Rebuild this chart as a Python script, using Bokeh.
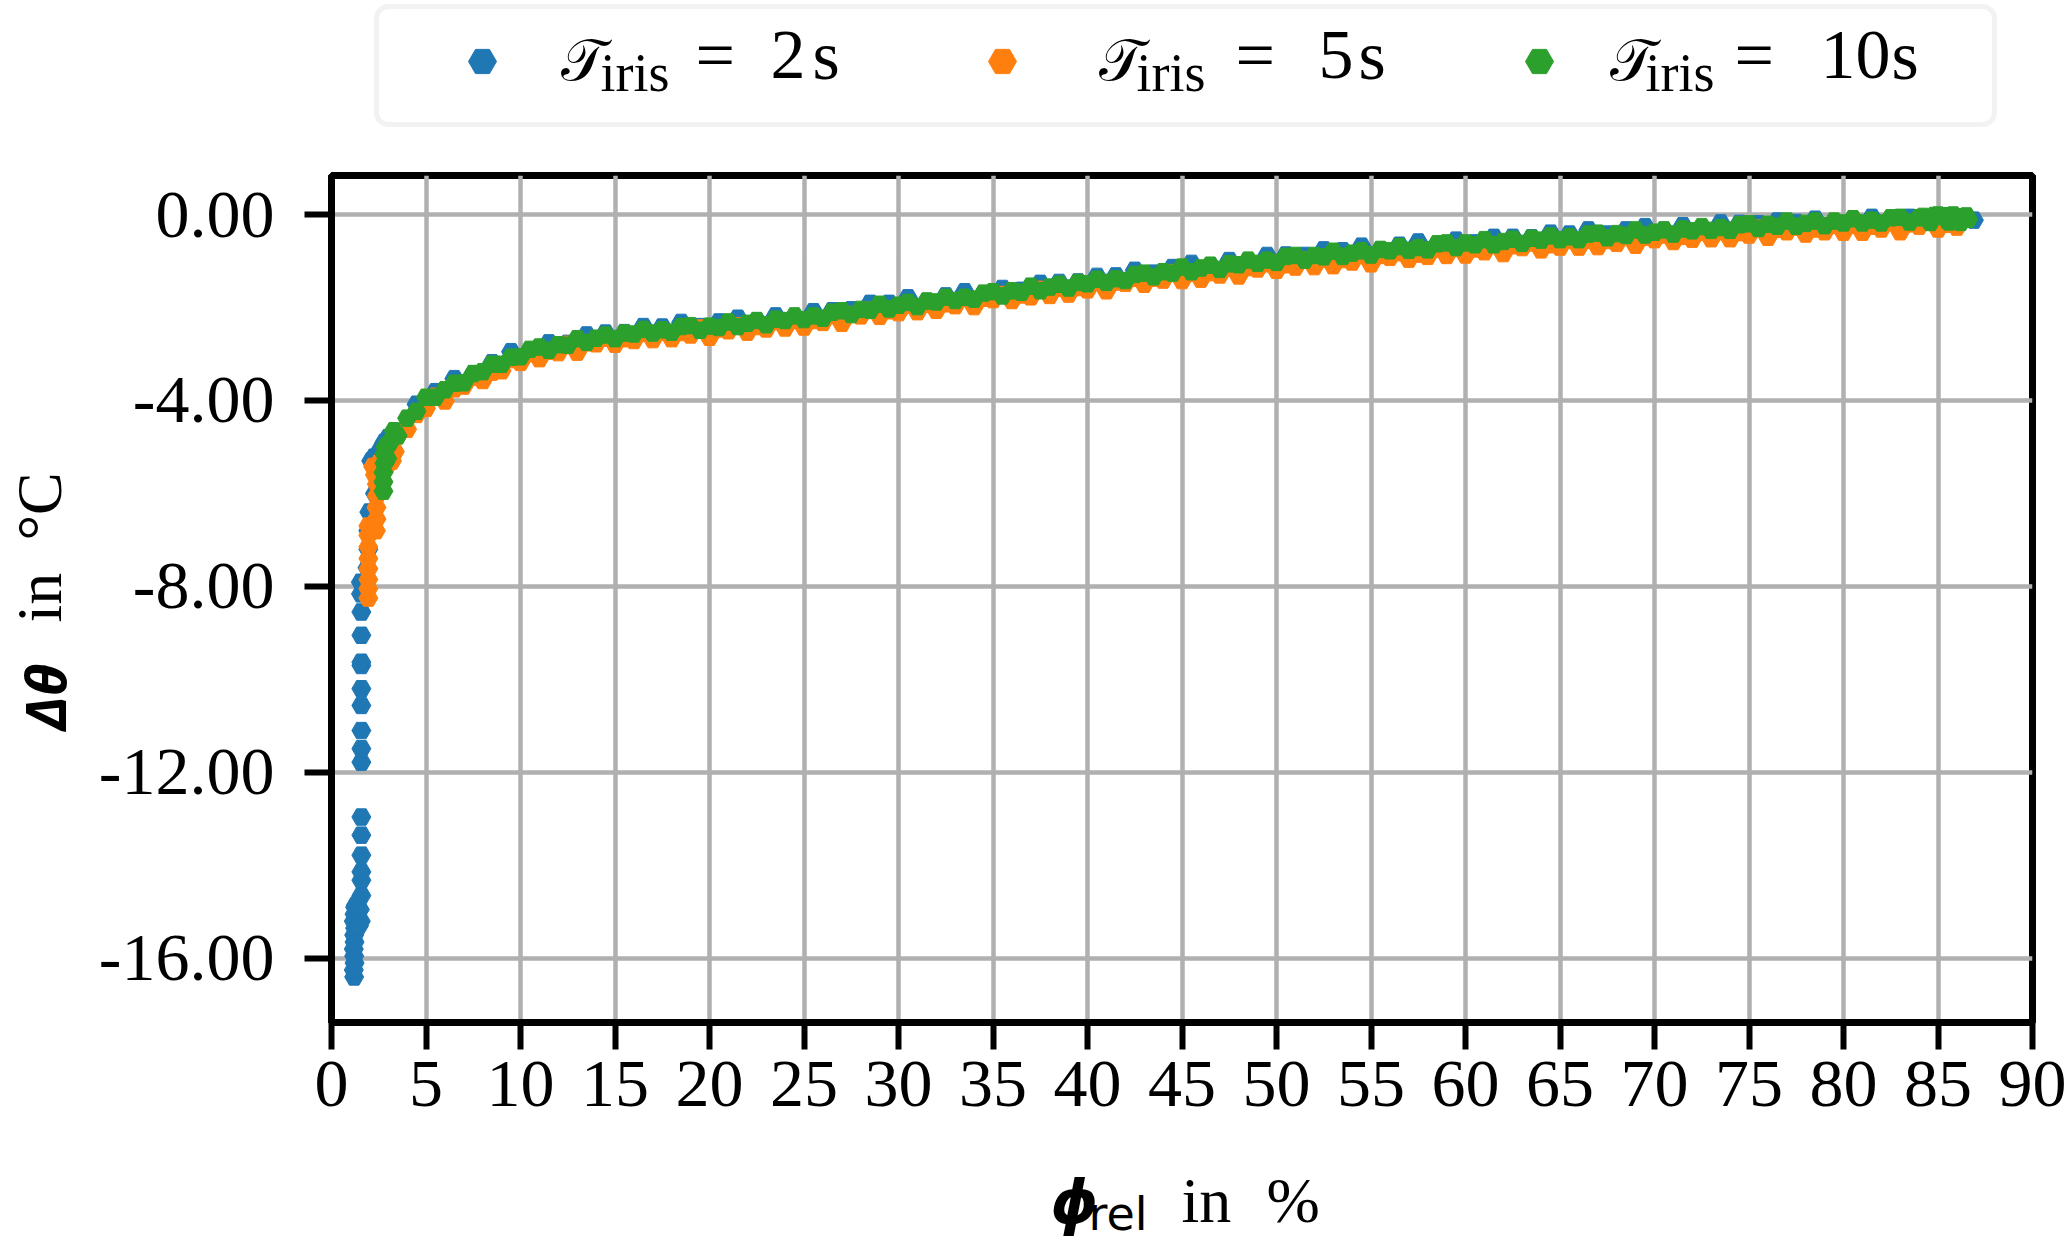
import math
from bokeh.plotting import figure
from bokeh.models import Range1d, FixedTicker, Label, BoxAnnotation, GridBox
from bokeh.embed import file_html
from bokeh.resources import INLINE

# ---------------- data ----------------
series_names = ["2", "5", "10"]
colors = ["#1f77b4", "#ff7f0e", "#2ca02c"]

# T_iris = 2 s
phi_2s = [1.20, 1.18, 1.22, 1.20, 1.18, 1.22, 1.20, 1.25, 1.18, 1.22,
          1.25, 1.30, 1.50, 1.55, 1.45,
          1.58, 1.58, 1.58, 1.58, 1.58, 1.58, 1.58, 1.58, 1.58, 1.58,
          1.58, 1.58, 1.58, 1.58, 1.58, 1.56, 1.55,
          1.90, 1.95, 1.95, 2.00, 2.30, 2.35, 2.10, 2.25, 2.45, 2.60, 2.80, 3.00,
          3.5, 4.5, 5.5, 6.5, 7.5, 8.5, 9.5, 10.5, 11.5, 12.5,
          13.5, 14.5, 15.5, 16.5, 17.5, 18.5, 19.5, 20.5, 21.5, 22.5,
          23.5, 24.5, 25.5, 26.5, 27.5, 28.5, 29.5, 30.5, 31.5, 32.5,
          33.5, 34.5, 35.5, 36.5, 37.5, 38.5, 39.5, 40.5, 41.5, 42.5,
          43.5, 44.5, 45.5, 46.5, 47.5, 48.5, 49.5, 50.5, 51.5, 52.5,
          53.5, 54.5, 55.5, 56.5, 57.5, 58.5, 59.5, 60.5, 61.5, 62.5,
          63.5, 64.5, 65.5, 66.5, 67.5, 68.5, 69.5, 70.5, 71.5, 72.5,
          73.5, 74.5, 75.5, 76.5, 77.5, 78.5, 79.5, 80.5, 81.5, 82.5,
          83.5, 84.5, 85.5, 86.5, 86.9]
dtheta_2s = [-16.40, -16.25, -16.10, -15.95, -15.80, -15.65, -15.50, -15.35, -15.20, -15.05,
             -14.90, -14.85, -14.95, -15.20, -15.30,
             -14.65, -14.32, -14.14, -13.78, -13.35, -12.96, -11.78, -11.49, -11.10, -10.56,
             -10.20, -9.70, -9.63, -9.05, -8.55, -8.16, -7.91,
             -7.60, -7.20, -6.80, -6.40, -6.00, -5.60, -5.30, -5.22, -5.20, -5.05, -4.90, -4.80,
             -4.66, -4.08, -3.81, -3.53, -3.43, -3.19, -2.95, -2.92, -2.76, -2.77,
             -2.59, -2.55, -2.54, -2.41, -2.42, -2.32, -2.41, -2.31, -2.23, -2.29,
             -2.18, -2.23, -2.09, -2.07, -2.05, -1.91, -1.91, -1.79, -1.87, -1.75,
             -1.66, -1.71, -1.59, -1.63, -1.48, -1.46, -1.45, -1.33, -1.32, -1.20,
             -1.26, -1.14, -1.05, -1.10, -0.99, -1.03, -0.88, -0.87, -0.88, -0.76,
             -0.78, -0.68, -0.76, -0.66, -0.59, -0.65, -0.55, -0.61, -0.49, -0.49,
             -0.50, -0.40, -0.42, -0.33, -0.42, -0.33, -0.26, -0.34, -0.24, -0.31,
             -0.18, -0.19, -0.20, -0.14, -0.17, -0.10, -0.19, -0.12, -0.06, -0.14,
             -0.06, -0.13, -0.03, -0.05, -0.12]

# T_iris = 5 s
phi_5s = [1.95, 1.95, 1.95, 1.95, 1.95, 1.95, 1.95, 1.95, 2.35, 2.38,
          2.38, 2.40, 2.40, 2.30, 2.20, 2.50, 2.75, 2.95, 3.20, 3.35,
          3.0, 3.5, 4.0, 4.5, 5.0, 5.5, 6.0, 6.5, 7.0, 7.5,
          8.0, 8.5, 9.0, 9.5, 10.0, 10.5, 11.0, 11.5, 12.0, 12.5,
          13.0, 13.5, 14.0, 14.5, 15.0, 15.5, 16.0, 16.5, 17.0, 17.5,
          18.0, 18.5, 19.0, 19.5, 20.0, 20.5, 21.0, 21.5, 22.0, 22.5,
          23.0, 23.5, 24.0, 24.5, 25.0, 25.5, 26.0, 26.5, 27.0, 27.5,
          28.0, 28.5, 29.0, 29.5, 30.0, 30.5, 31.0, 31.5, 32.0, 32.5,
          33.0, 33.5, 34.0, 34.5, 35.0, 35.5, 36.0, 36.5, 37.0, 37.5,
          38.0, 38.5, 39.0, 39.5, 40.0, 40.5, 41.0, 41.5, 42.0, 42.5,
          43.0, 43.5, 44.0, 44.5, 45.0, 45.5, 46.0, 46.5, 47.0, 47.5,
          48.0, 48.5, 49.0, 49.5, 50.0, 50.5, 51.0, 51.5, 52.0, 52.5,
          53.0, 53.5, 54.0, 54.5, 55.0, 55.5, 56.0, 56.5, 57.0, 57.5,
          58.0, 58.5, 59.0, 59.5, 60.0, 60.5, 61.0, 61.5, 62.0, 62.5,
          63.0, 63.5, 64.0, 64.5, 65.0, 65.5, 66.0, 66.5, 67.0, 67.5,
          68.0, 68.5, 69.0, 69.5, 70.0, 70.5, 71.0, 71.5, 72.0, 72.5,
          73.0, 73.5, 74.0, 74.5, 75.0, 75.5, 76.0, 76.5, 77.0, 77.5,
          78.0, 78.5, 79.0, 79.5, 80.0, 80.5, 81.0, 81.5, 82.0, 82.5,
          83.0, 83.5, 84.0, 84.5, 85.0, 85.5, 86.0]
dtheta_5s = [-8.25, -8.05, -7.85, -7.62, -7.40, -7.15, -6.90, -6.70, -6.80, -6.55,
             -6.30, -6.05, -5.80, -5.60, -5.42, -5.35, -5.30, -5.40, -5.30, -5.10,
             -5.20, -4.76, -4.62, -4.30, -4.17, -3.91, -4.01, -3.75, -3.69, -3.50,
             -3.57, -3.39, -3.36, -3.12, -3.18, -2.99, -3.10, -2.94, -2.97, -2.79,
             -2.96, -2.76, -2.78, -2.66, -2.79, -2.67, -2.71, -2.55, -2.69, -2.53,
             -2.67, -2.54, -2.59, -2.44, -2.64, -2.46, -2.50, -2.39, -2.53, -2.41,
             -2.46, -2.30, -2.44, -2.28, -2.42, -2.28, -2.32, -2.16, -2.34, -2.15,
             -2.18, -2.06, -2.19, -2.07, -2.11, -1.95, -2.09, -1.93, -2.06, -1.92,
             -1.96, -1.80, -1.98, -1.80, -1.83, -1.72, -1.85, -1.73, -1.77, -1.61,
             -1.74, -1.58, -1.71, -1.57, -1.62, -1.46, -1.64, -1.45, -1.48, -1.37,
             -1.50, -1.37, -1.41, -1.25, -1.42, -1.26, -1.39, -1.25, -1.30, -1.14,
             -1.32, -1.14, -1.17, -1.06, -1.20, -1.08, -1.13, -0.98, -1.12, -0.96,
             -1.10, -0.97, -1.02, -0.87, -1.06, -0.88, -0.92, -0.82, -0.96, -0.85,
             -0.90, -0.74, -0.88, -0.73, -0.87, -0.74, -0.80, -0.65, -0.84, -0.67,
             -0.71, -0.61, -0.76, -0.65, -0.70, -0.55, -0.70, -0.55, -0.69, -0.56,
             -0.62, -0.47, -0.66, -0.49, -0.54, -0.44, -0.58, -0.47, -0.53, -0.38,
             -0.52, -0.37, -0.52, -0.39, -0.44, -0.29, -0.49, -0.32, -0.37, -0.27,
             -0.42, -0.31, -0.37, -0.23, -0.38, -0.23, -0.38, -0.25, -0.31, -0.17,
             -0.37, -0.20, -0.25, -0.16, -0.31, -0.21, -0.27]

# T_iris = 10 s
phi_10s = [2.75, 2.75, 2.75, 2.80, 2.80, 2.85, 2.95, 3.10, 3.30,
           3.0, 3.5, 4.0, 4.5, 5.0, 5.5, 6.0, 6.5, 7.0, 7.5,
           8.0, 8.5, 9.0, 9.5, 10.0, 10.5, 11.0, 11.5, 12.0, 12.5,
           13.0, 13.5, 14.0, 14.5, 15.0, 15.5, 16.0, 16.5, 17.0, 17.5,
           18.0, 18.5, 19.0, 19.5, 20.0, 20.5, 21.0, 21.5, 22.0, 22.5,
           23.0, 23.5, 24.0, 24.5, 25.0, 25.5, 26.0, 26.5, 27.0, 27.5,
           28.0, 28.5, 29.0, 29.5, 30.0, 30.5, 31.0, 31.5, 32.0, 32.5,
           33.0, 33.5, 34.0, 34.5, 35.0, 35.5, 36.0, 36.5, 37.0, 37.5,
           38.0, 38.5, 39.0, 39.5, 40.0, 40.5, 41.0, 41.5, 42.0, 42.5,
           43.0, 43.5, 44.0, 44.5, 45.0, 45.5, 46.0, 46.5, 47.0, 47.5,
           48.0, 48.5, 49.0, 49.5, 50.0, 50.5, 51.0, 51.5, 52.0, 52.5,
           53.0, 53.5, 54.0, 54.5, 55.0, 55.5, 56.0, 56.5, 57.0, 57.5,
           58.0, 58.5, 59.0, 59.5, 60.0, 60.5, 61.0, 61.5, 62.0, 62.5,
           63.0, 63.5, 64.0, 64.5, 65.0, 65.5, 66.0, 66.5, 67.0, 67.5,
           68.0, 68.5, 69.0, 69.5, 70.0, 70.5, 71.0, 71.5, 72.0, 72.5,
           73.0, 73.5, 74.0, 74.5, 75.0, 75.5, 76.0, 76.5, 77.0, 77.5,
           78.0, 78.5, 79.0, 79.5, 80.0, 80.5, 81.0, 81.5, 82.0, 82.5,
           83.0, 83.5, 84.0, 84.5, 85.0, 85.5, 86.0, 86.5,
           84.2, 84.8, 85.3, 85.8, 86.3, 86.6, 85.6, 84.6, 86.2]
dtheta_10s = [-5.95, -5.75, -5.55, -5.35, -5.15, -5.00, -5.25, -4.90, -4.65,
              -4.95, -4.76, -4.38, -4.23, -3.93, -3.93, -3.77, -3.63, -3.62, -3.42,
              -3.38, -3.22, -3.22, -3.07, -3.06, -2.90, -2.85, -2.92, -2.80, -2.81,
              -2.67, -2.75, -2.66, -2.59, -2.67, -2.55, -2.57, -2.47, -2.55, -2.48,
              -2.53, -2.41, -2.39, -2.49, -2.40, -2.43, -2.31, -2.41, -2.34, -2.28,
              -2.37, -2.25, -2.28, -2.18, -2.26, -2.18, -2.23, -2.10, -2.07, -2.15,
              -2.04, -2.06, -1.93, -2.03, -1.95, -1.89, -1.98, -1.86, -1.88, -1.78,
              -1.85, -1.78, -1.82, -1.69, -1.66, -1.75, -1.64, -1.67, -1.54, -1.64,
              -1.56, -1.50, -1.58, -1.46, -1.49, -1.39, -1.46, -1.38, -1.42, -1.29,
              -1.26, -1.34, -1.23, -1.26, -1.13, -1.23, -1.15, -1.09, -1.18, -1.06,
              -1.08, -0.98, -1.05, -0.98, -1.03, -0.90, -0.88, -0.98, -0.88, -0.91,
              -0.79, -0.90, -0.83, -0.78, -0.87, -0.75, -0.78, -0.69, -0.77, -0.71,
              -0.76, -0.63, -0.61, -0.71, -0.61, -0.65, -0.54, -0.65, -0.58, -0.53,
              -0.62, -0.51, -0.55, -0.46, -0.54, -0.48, -0.54, -0.42, -0.40, -0.50,
              -0.41, -0.45, -0.33, -0.44, -0.38, -0.33, -0.42, -0.31, -0.35, -0.26,
              -0.34, -0.28, -0.34, -0.22, -0.20, -0.30, -0.21, -0.25, -0.14, -0.25,
              -0.19, -0.14, -0.24, -0.14, -0.18, -0.09, -0.18, -0.12, -0.18, -0.07,
              -0.06, -0.16, -0.07, -0.12, -0.01, -0.13, -0.07, -0.03,
              -0.04, -0.02, -0.03, -0.01, -0.05, -0.10, -0.16, -0.17, -0.17]

x_ticks = [0, 5, 10, 15, 20, 25, 30, 35, 40, 45, 50, 55, 60, 65, 70, 75, 80, 85, 90]
x_tick_labels = ["0", "5", "10", "15", "20", "25", "30", "35", "40", "45",
                 "50", "55", "60", "65", "70", "75", "80", "85", "90"]
y_ticks = [0, -4, -8, -12, -16]
y_tick_labels = ["0.00", "-4.00", "-8.00", "-12.00", "-16.00"]

# ---------------- layout constants (pixels) ----------------
SERIF = "Liberation Serif"
W_YL = 95                       # strip holding the y-axis title
M_L, M_R, M_T, M_B = 236, 35, 25, 140
FR_W, FR_H = 1701, 847
MAIN_W = M_L + FR_W + M_R
MAIN_H = M_T + FR_H + M_B
LEG_H = 150
XL_H = 1243 - LEG_H - MAIN_H
FX0 = W_YL + M_L                # page x of plot frame left
FY0 = LEG_H + M_T               # page y of plot frame top
BASE_SHIFT = 0.36               # measured offset of rendered baseline, in em


def strip(width, height, xr, yr, bl, br, bt, bb):
    f = figure(width=width, height=height, x_range=Range1d(*xr), y_range=Range1d(*yr),
               toolbar_location=None, output_backend="svg",
               min_border_left=bl, min_border_right=br, min_border_top=bt, min_border_bottom=bb,
               x_axis_location=None, y_axis_location=None)
    f.grid.visible = False
    f.outline_line_color = None
    f.background_fill_color = "white"
    f.border_fill_color = "white"
    return f


def add_label(fig, x, y, text, font, size_px, style="normal", vertical=False):
    d = BASE_SHIFT * size_px
    if vertical:
        x, angle = x - d, math.pi / 2
    else:
        y, angle = y - d, 0.0
    fig.add_layout(Label(x=x, y=y, text=text, text_font=font, text_font_size=f"{size_px}px",
                         text_font_style=style, text_color="black", angle=angle,
                         text_align="left", text_baseline="alphabetic"))


# ---------------- main plot ----------------
p = figure(width=MAIN_W, height=MAIN_H,
           x_range=Range1d(0, 90), y_range=Range1d(-17.38, 0.84),
           toolbar_location=None, output_backend="svg",
           min_border_left=M_L, min_border_right=M_R,
           min_border_top=M_T, min_border_bottom=M_B)
p.background_fill_color = "white"
p.border_fill_color = "white"
p.outline_line_color = "black"
p.outline_line_width = 7

p.xaxis.ticker = FixedTicker(ticks=x_ticks)
p.xaxis.major_label_overrides = {t: s for t, s in zip(x_ticks, x_tick_labels)}
p.yaxis.ticker = FixedTicker(ticks=y_ticks)
p.yaxis.major_label_overrides = {t: s for t, s in zip(y_ticks, y_tick_labels)}
for ax in (p.xaxis[0], p.yaxis[0]):
    ax.axis_line_color = "black"
    ax.axis_line_width = 7
    ax.major_tick_line_color = "black"
    ax.major_tick_line_width = 6
    ax.major_tick_out = 27
    ax.major_tick_in = 0
    ax.minor_tick_out = 0
    ax.minor_tick_in = 0
    ax.major_label_text_font = SERIF
    ax.major_label_text_font_size = "68px"
    ax.major_label_text_color = "black"
p.xaxis.major_label_standoff = 12
p.yaxis.major_label_standoff = 30

p.grid.grid_line_color = "#b0b0b0"
p.grid.grid_line_width = 4.5

for xs, ys, c in ((phi_2s, dtheta_2s, colors[0]),
                  (phi_5s, dtheta_5s, colors[1]),
                  (phi_10s, dtheta_10s, colors[2])):
    p.scatter(xs, ys, marker="hex", size=19, fill_color=c, line_color=c, line_width=1)

# ---------------- legend strip (page pixel coordinates) ----------------
leg = strip(MAIN_W, LEG_H, (FX0, FX0 + FR_W), (LEG_H, 0), M_L, M_R, 0, 0)
leg.add_layout(BoxAnnotation(left=376, right=1994, top=6, bottom=124, level="underlay",
                             fill_color="white", fill_alpha=1.0,
                             line_color="#d3d3d3", line_width=5, border_radius=12))
marker_x = [482, 1002, 1539]
t_x = [560, 1098, 1609]
iris_x = [600, 1136, 1645]
eq_x = [695, 1235, 1734]
num_x = [770, 1318, 1820]
s_x = [812, 1358, 1891]
leg.scatter(marker_x, [61, 61, 61], marker="hex", size=28, fill_color=colors, line_color=colors)
for i, name in enumerate(series_names):
    add_label(leg, t_x[i], 80, "\U0001d4af", "DejaVu Serif", 58)
    add_label(leg, iris_x[i], 92, "iris", SERIF, 54)
    add_label(leg, eq_x[i], 80, "=", SERIF, 70)
    add_label(leg, num_x[i], 80, name, SERIF, 70)
    add_label(leg, s_x[i], 80, "s", SERIF, 70)

# ---------------- y-axis title strip ----------------
ylab = strip(W_YL, MAIN_H, (0, W_YL), (FY0 + FR_H, FY0), 0, 0, M_T, M_B)
add_label(ylab, 64, 730, "\u0394\u03b8", "Open Sans", 56, "bold italic", vertical=True)
add_label(ylab, 62, 622, "in", SERIF, 64, vertical=True)
add_label(ylab, 62, 540, "\u00b0C", SERIF, 64, vertical=True)

# ---------------- x-axis title strip ----------------
y_top = LEG_H + MAIN_H
xlab = strip(MAIN_W, XL_H, (FX0, FX0 + FR_W), (y_top + XL_H, y_top), M_L, M_R, 0, 0)
add_label(xlab, 1050, 1223, "\u03d5", "DejaVu Sans", 60, "bold italic")
add_label(xlab, 1088, 1230, "rel", "DejaVu Sans", 46)
add_label(xlab, 1181, 1223, "in", SERIF, 64)
add_label(xlab, 1266, 1223, "%", SERIF, 64)

grid = GridBox(children=[(leg, 0, 1), (ylab, 1, 0), (p, 1, 1), (xlab, 2, 1)], spacing=0)
open("out.html", "w").write(file_html(grid, INLINE))
